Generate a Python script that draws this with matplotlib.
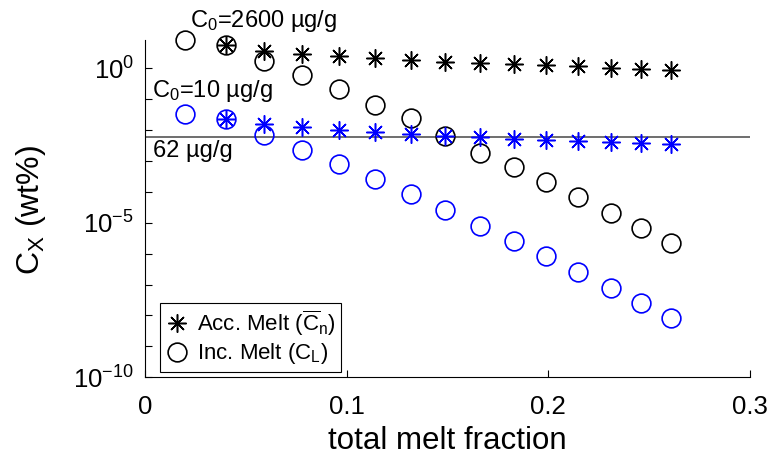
import numpy as np
import matplotlib
matplotlib.use("Agg")
import matplotlib.pyplot as plt
from matplotlib.ticker import FixedLocator, FuncFormatter

plt.rcParams['font.family'] = ['Liberation Sans', 'DejaVu Sans']
plt.rcParams['mathtext.fontset'] = 'custom'
plt.rcParams['mathtext.rm'] = 'Liberation Sans'
plt.rcParams['mathtext.it'] = 'Liberation Sans'
plt.rcParams['mathtext.bf'] = 'Liberation Sans:bold'
plt.rcParams['mathtext.default'] = 'regular'

# melt fraction steps
F = [0.020, 0.040, 0.059, 0.078, 0.096, 0.114, 0.132, 0.149, 0.166,
     0.183, 0.199, 0.215, 0.231, 0.246, 0.261]

# log10 of concentration (wt%)
acc_2600 = [0.77, 0.58, 0.47, 0.42, 0.35, 0.28, 0.22, 0.17, 0.13,
            0.10, 0.065, 0.025, -0.01, -0.04]            # starts at F[1]
inc_2600 = [0.93, 0.77, 0.25, -0.22, -0.68, -1.17, -1.62, -2.19, -2.75,
            -3.19, -3.69, -4.17, -4.67, -5.17, -5.65]
acc_10 = [-1.63, -1.79, -1.90, -2.00, -2.06, -2.13, -2.19, -2.22, -2.28,
          -2.31, -2.36, -2.39, -2.41, -2.44]
inc_10 = [-1.47, -1.63, -2.16, -2.63, -3.10, -3.59, -4.07, -4.59, -5.11,
          -5.59, -6.09, -6.60, -7.10, -7.59, -8.08]
limit_wt = 0.0062   # 62 ug/g

blue = '#0000ff'
star = (8, 2, 0)

W, H = 769, 461
fig = plt.figure(figsize=(W / 100, H / 100), dpi=100)
ax = fig.add_axes([0.1886, 0.182, 0.7864, 0.731])

ax.axhline(limit_wt, color='#555555', lw=1.2, zorder=1)

ax.semilogy(F[1:], 10 ** np.array(acc_2600), ls='none', marker=star, ms=13,
            mec='k', mew=1.1, clip_on=False, label=r'Acc. Melt ($\overline{C}_{n}$)')
ax.semilogy(F, 10 ** np.array(inc_2600), ls='none', marker='o', ms=13.5,
            mfc='none', mec='k', mew=1.2, clip_on=False, label=r'Inc. Melt ($C_{L}$)')
ax.semilogy(F[1:], 10 ** np.array(acc_10), ls='none', marker=star, ms=13,
            mec=blue, mew=1.1, clip_on=False)
ax.semilogy(F, 10 ** np.array(inc_10), ls='none', marker='o', ms=13.5,
            mfc='none', mec=blue, mew=1.2, clip_on=False)

ax.set_xlim(0, 0.3)
ax.set_ylim(1e-10, 10 ** 0.92)
ax.set_xticks([0, 0.1, 0.2, 0.3])
ax.set_xticklabels(['0', '0.1', '0.2', '0.3'])
ax.yaxis.set_major_locator(FixedLocator([10.0 ** k for k in range(-10, 1)]))
ax.yaxis.set_minor_locator(FixedLocator([]))
ax.yaxis.set_major_formatter(FuncFormatter(
    lambda v, p: r'$10^{%d}$' % round(np.log10(v)) if round(np.log10(v)) % 5 == 0 else ''))

ax.tick_params(direction='in', length=5, width=0.8, labelsize=18.5)
ax.tick_params(axis='x', pad=13)
ax.tick_params(axis='y', pad=8)
for s in ['top', 'right']:
    ax.spines[s].set_visible(False)
for s in ['left', 'bottom']:
    ax.spines[s].set_linewidth(0.8)

ax.set_xlabel('total melt fraction', fontsize=22.5, labelpad=5)
fig.text(31 / W, 1 - 210 / H, r'$C_{X}$ (wt%)', fontsize=23, rotation=90,
         ha='center', va='center')

ax.text(0.0223, 10 ** 1.34, r'$C_{0}$=2600 µg/g', fontsize=17, va='baseline', ha='left')
ax.text(0.0035, 10 ** -0.92, r'$C_{0}$=10 µg/g', fontsize=17, va='baseline', ha='left')
ax.text(0.004, 10 ** -2.88, '62 µg/g', fontsize=17, va='baseline', ha='left')

leg = ax.legend(loc='lower left', bbox_to_anchor=(0.025, 0.015), borderaxespad=0,
                fontsize=16, fancybox=False, framealpha=1, edgecolor='k',
                handlelength=1.0, handletextpad=0.4, borderpad=0.25,
                labelspacing=0.15)
leg.get_frame().set_linewidth(0.8)

fig.savefig('out.png', dpi=100)
